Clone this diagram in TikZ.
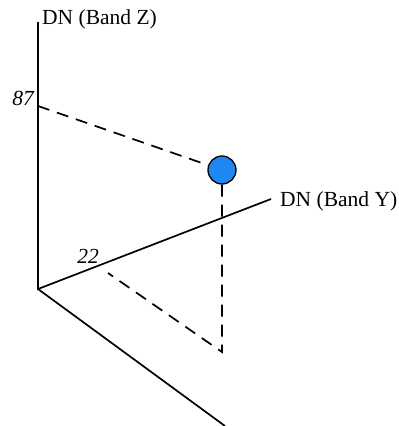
\documentclass[tikz,border=0pt]{standalone}
\usepackage{fontspec}
\setmainfont{Liberation Serif}
\definecolor{ptblue}{HTML}{1E88F0}
\begin{document}
\begin{tikzpicture}[x=1pt,y=-1pt,
  axis/.style={line width=1.7pt,black},
  dashline/.style={line width=1.7pt,dash pattern=on 12pt off 8pt},
  lbl/.style={inner sep=0pt,font=\fontsize{21.5}{24}\selectfont},
  num/.style={inner sep=0pt,font=\fontsize{21.5}{24}\selectfont\itshape}]
\useasboundingbox (0,0) rectangle (399,426);
\coordinate (O) at (38,289);
\coordinate (Ztop) at (38,22);
\coordinate (Yend) at (271,199);
\coordinate (Xend) at (225,426);
\coordinate (Z87) at (38,106);
\coordinate (Y22) at (108,273);
\coordinate (Base) at (222,352);
\draw[axis] (Ztop) -- (O) -- (Yend);
\draw[axis] (O) -- (Xend);
\node[lbl,anchor=west] (zl) at (42,19) {DN (Band Z)};
\node[lbl,anchor=west] (yl) at (280,201) {DN (Band Y)};
\node[num,anchor=east] (n87) at (34,98) {87};
\node[num] (n22) at (88,256) {22};
\node[circle,draw=black,line width=1.3pt,fill=ptblue,minimum size=28pt,inner sep=0pt] (pt) at (222,170) {};
\draw[dashline] (Z87) -- (pt);
\draw[dashline] (pt) -- (Base) -- (Y22);
\end{tikzpicture}
\end{document}
